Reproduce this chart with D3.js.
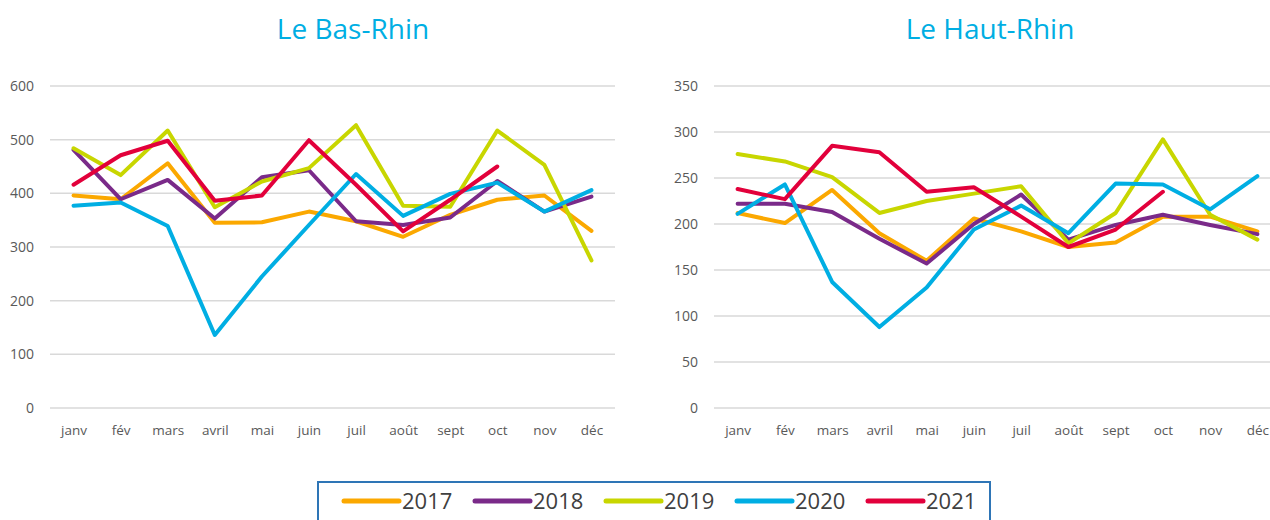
<!DOCTYPE html>
<html>
<head>
<meta charset="utf-8">
<script src="https://cdn.jsdelivr.net/npm/d3@7"></script>
<style>
  body { margin: 0; background: #fff; }
  svg { display: block; }
  .tick text { fill: #595959; }
</style>
</head>
<body>
<div id="chart"></div>
<script>
var months = ["janv", "fév", "mars", "avril", "mai", "juin", "juil", "août", "sept", "oct", "nov", "déc"];
var years = ["2017", "2018", "2019", "2020", "2021"];
var colors = ["#FBA800", "#7A2A89", "#C8D600", "#00AEE3", "#E2003B"];

// Le Bas-Rhin
var basRhin2017 = [396, 389, 456, 345, 346, 366, 348, 319, 360, 388, 396, 330];
var basRhin2018 = [481, 389, 425, 353, 430, 443, 348, 341, 355, 423, 366, 394];
var basRhin2019 = [484, 434, 517, 374, 422, 447, 527, 377, 375, 517, 453, 275];
var basRhin2020 = [377, 383, 339, 136, 245, 341, 436, 358, 399, 420, 366, 406];
var basRhin2021 = [416, 471, 498, 386, 396, 499, 416, 329, 388, 450, null, null];
var basRhinTicks = [0, 100, 200, 300, 400, 500, 600];

// Le Haut-Rhin
var hautRhin2017 = [212, 201, 237, 190, 160, 206, 192, 175, 180, 208, 208, 192];
var hautRhin2018 = [222, 222, 213, 184, 157, 200, 232, 183, 199, 210, 199, 189];
var hautRhin2019 = [276, 268, 251, 212, 225, 233, 241, 179, 212, 292, 210, 183];
var hautRhin2020 = [211, 243, 137, 88, 131, 194, 220, 190, 244, 243, 216, 252];
var hautRhin2021 = [238, 227, 285, 278, 235, 240, 208, 175, 194, 235, null, null];
var hautRhinTicks = [0, 50, 100, 150, 200, 250, 300, 350];

var svg = d3.select("#chart").append("svg")
  .attr("width", 1270)
  .attr("height", 520);

function drawPanel(title, series, ticks, left, right, titleX) {
  var x = d3.scalePoint().domain(months).range([left, right]).padding(0.5);
  var y = d3.scaleLinear().domain([0, ticks[ticks.length - 1]]).range([408, 86]);

  svg.append("text")
    .attr("x", titleX)
    .attr("y", 39)
    .attr("text-anchor", "middle")
    .style("font-family", "'Open Sans', sans-serif")
    .style("font-size", "28px")
    .attr("fill", "#00AEE3")
    .text(title);

  // horizontal gridlines
  svg.append("g")
    .selectAll("line")
    .data(ticks)
    .enter()
    .append("line")
    .attr("x1", left)
    .attr("x2", right)
    .attr("y1", d => y(d))
    .attr("y2", d => y(d))
    .attr("stroke", "#D9D9D9")
    .attr("stroke-width", 1.5);

  var leftAxis = d3.axisLeft(y).tickValues(ticks).tickSize(0).tickPadding(16);
  svg.append("g")
    .attr("transform", `translate(${left}, 0)`)
    .call(leftAxis)
    .call(g => g.select(".domain").remove())
    .selectAll("text")
    .style("font-family", "'Open Sans', sans-serif")
    .style("font-size", "14px");

  var bottomAxis = d3.axisBottom(x).tickSize(0).tickPadding(17);
  svg.append("g")
    .attr("transform", `translate(0, 408)`)
    .call(bottomAxis)
    .call(g => g.select(".domain").remove())
    .selectAll("text")
    .style("font-family", "'Open Sans', sans-serif")
    .style("font-size", "13.5px");

  var line = d3.line()
    .defined(d => d != null)
    .x((d, i) => x(months[i]))
    .y(d => y(d));

  svg.append("g")
    .selectAll("path")
    .data(series)
    .enter()
    .append("path")
    .attr("d", d => line(d))
    .attr("fill", "none")
    .attr("stroke", (d, i) => colors[i])
    .attr("stroke-width", 4)
    .attr("stroke-linejoin", "round")
    .attr("stroke-linecap", "round");
}

drawPanel("Le Bas-Rhin",
  [basRhin2017, basRhin2018, basRhin2019, basRhin2020, basRhin2021],
  basRhinTicks, 50, 615, 353);
drawPanel("Le Haut-Rhin",
  [hautRhin2017, hautRhin2018, hautRhin2019, hautRhin2020, hautRhin2021],
  hautRhinTicks, 714, 1281, 990);

// legend
svg.append("rect")
  .attr("x", 318)
  .attr("y", 482)
  .attr("width", 672)
  .attr("height", 60)
  .attr("fill", "none")
  .attr("stroke", "#2E75B6")
  .attr("stroke-width", 2);

var legend = svg.append("g")
  .selectAll("g")
  .data(years)
  .enter()
  .append("g")
  .attr("transform", (d, i) => `translate(${344 + i * 131}, 501)`);

legend.append("line")
  .attr("x1", 0)
  .attr("x2", 55)
  .attr("stroke", (d, i) => colors[i])
  .attr("stroke-width", 5)
  .attr("stroke-linecap", "round");

legend.append("text")
  .attr("x", 58)
  .attr("y", 8)
  .style("font-family", "'Open Sans', sans-serif")
  .style("font-size", "22px")
  .attr("fill", "#404040")
  .text(d => d);
</script>
</body>
</html>
